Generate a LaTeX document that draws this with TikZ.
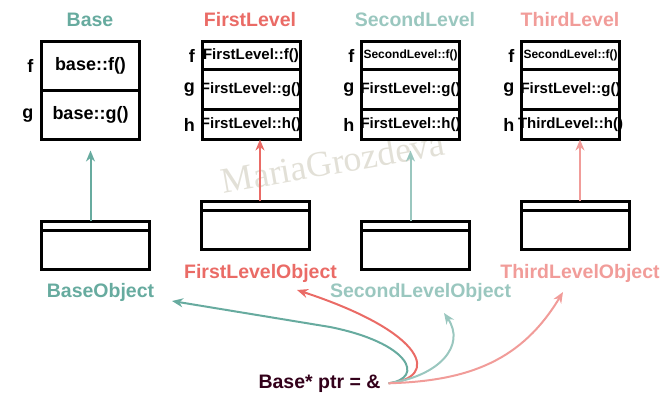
\documentclass[tikz,border=0pt]{standalone}
\usepackage{fontspec}
\setmainfont{Liberation Sans}
\newfontfamily\markfont{Liberation Serif}
\usetikzlibrary{arrows.meta,positioning}
\definecolor{basecol}{HTML}{67AB9F}
\definecolor{firstcol}{HTML}{EA6B66}
\definecolor{secondcol}{HTML}{9AC7BF}
\definecolor{thirdcol}{HTML}{F19C99}
\definecolor{ptrcol}{HTML}{33001A}
\definecolor{markcol}{HTML}{E2E0D7}
\newcommand{\fitted}[1]{\makebox[0pt]{#1}}

\begin{document}
\begin{tikzpicture}[
    x=1pt, y=-1pt,
    row/.style={draw, line width=3pt, outer sep=0pt, inner sep=0pt, minimum width=98pt, font=\bfseries\fontsize{15}{15}\selectfont},
    slot/.style={inner sep=0pt, font=\bfseries\fontsize{18}{18}\selectfont},
    title/.style={anchor=base, font=\bfseries\fontsize{19.5}{20}\selectfont},
    objhead/.style={draw, line width=3pt, outer sep=0pt, inner sep=0pt, minimum width=108pt, minimum height=9pt},
    objbody/.style={draw, line width=3pt, outer sep=0pt, inner sep=0pt, minimum width=108pt, minimum height=39pt},
    arr/.style={-{Stealth[length=11pt, width=9pt, inset=3.5pt]}, line width=2pt}
]
\useasboundingbox (0,0) rectangle (662,401);

% watermark
\node[text=markcol, font=\markfont\fontsize{36}{36}\selectfont, rotate=10] (mark) at (333,162) {MariaGrozdeva};

% Base
\node[row, anchor=north, minimum height=49.5pt, font=\bfseries\fontsize{18}{18}\selectfont] (basef) at (90.5,41.5) {base::f()};
\node[row, below=0pt of basef, minimum height=48.5pt, font=\bfseries\fontsize{18}{18}\selectfont] (baseg) {base::g()};
\node[title, text=basecol] (basetitle) at (90,27) {Base};
\node[slot, left=8pt of basef] {f};
\node[slot, left=8pt of baseg] {g};

% FirstLevel
\node[row, anchor=north, minimum height=28.5pt] (firstf) at (251,41.5) {\fitted{FirstLevel::f()}};
\node[row, below=0pt of firstf, minimum height=40pt] (firstg) {\fitted{FirstLevel::g()}};
\node[row, below=0pt of firstg, minimum height=29.5pt] (firsth) {\fitted{FirstLevel::h()}};
\node[title, text=firstcol] (firsttitle) at (250,27) {FirstLevel};
\node[slot, left=7pt of firstf] {f};
\node[slot, left=7pt of firstg] {g};
\node[slot, left=7pt of firsth] {h};

% SecondLevel
\node[row, anchor=north, minimum height=28.5pt, font=\bfseries\fontsize{12}{12}\selectfont] (secondf) at (410.5,41.5) {\fitted{SecondLevel::f()}};
\node[row, below=0pt of secondf, minimum height=40pt] (secondg) {\fitted{FirstLevel::g()}};
\node[row, below=0pt of secondg, minimum height=29.5pt] (secondh) {\fitted{FirstLevel::h()}};
\node[title, text=secondcol] (secondtitle) at (415,27) {SecondLevel};
\node[slot, left=7pt of secondf] {f};
\node[slot, left=7pt of secondg] {g};
\node[slot, left=7pt of secondh] {h};

% ThirdLevel
\node[row, anchor=north, minimum height=28.5pt, font=\bfseries\fontsize{12}{12}\selectfont] (thirdf) at (570.5,41.5) {\fitted{SecondLevel::f()}};
\node[row, below=0pt of thirdf, minimum height=40pt] (thirdg) {\fitted{FirstLevel::g()}};
\node[row, below=0pt of thirdg, minimum height=29.5pt] (thirdh) {\fitted{ThirdLevel::h()}};
\node[title, text=thirdcol] (thirdtitle) at (570,27) {ThirdLevel};
\node[slot, left=7pt of thirdf] {f};
\node[slot, left=7pt of thirdg] {g};
\node[slot, left=7pt of thirdh] {h};

% objects
\node[objhead, anchor=north] (baseobjhead) at (95.5,221.5) {};
\node[objbody, below=0pt of baseobjhead] (baseobj) {};
\node[objhead, anchor=north] (firstobjhead) at (255.5,201.5) {};
\node[objbody, below=0pt of firstobjhead] (firstobj) {};
\node[objhead, anchor=north] (secondobjhead) at (415.5,221.5) {};
\node[objbody, below=0pt of secondobjhead] (secondobj) {};
\node[objhead, anchor=north] (thirdobjhead) at (575.5,201.5) {};
\node[objbody, below=0pt of thirdobjhead] (thirdobj) {};

\node[title, text=basecol] (baselabel) at (100.5,298) {BaseObject};
\node[title, text=firstcol] (firstlabel) at (260.5,278) {FirstLevelObject};
\node[title, text=secondcol] (secondlabel) at (420.5,298) {SecondLevelObject};
\node[title, text=thirdcol] (thirdlabel) at (580,278) {ThirdLevelObject};

% inheritance arrows
\draw[arr, basecol, shorten >=11pt] (baseobjhead.north -| baseg.south) -- (baseg.south);
\draw[arr, firstcol] ([xshift=9pt]firsth.south |- firstobjhead.north) -- ([xshift=9pt]firsth.south);
\draw[arr, secondcol, shorten >=11pt] (secondobjhead.north -| secondh.south) -- (secondh.south);
\draw[arr, thirdcol] ([xshift=9.5pt]thirdh.south |- thirdobjhead.north) -- ([xshift=9.5pt]thirdh.south);

% pointer
\node[title, text=ptrcol, inner xsep=8pt, inner ysep=2pt] (ptr) at (319.5,388) {Base* ptr = \&};
\coordinate (basetip) at (172,301);
\coordinate (firsttip) at (297,290);
\coordinate (secondtip) at (444,313);
\coordinate (thirdtip) at (563,292);
\draw[arr, basecol] (ptr.east) .. controls (425,378) and (410,343) .. (330,327) -- (basetip);
\draw[arr, firstcol] (ptr.east) .. controls (440,378) and (428,333) .. (firsttip);
\draw[arr, secondcol] (ptr.east) .. controls (440,376) and (466,345) .. (secondtip);
\draw[arr, thirdcol] (ptr.east) .. controls (470,381) and (522,360) .. (thirdtip);
\end{tikzpicture}
\end{document}
